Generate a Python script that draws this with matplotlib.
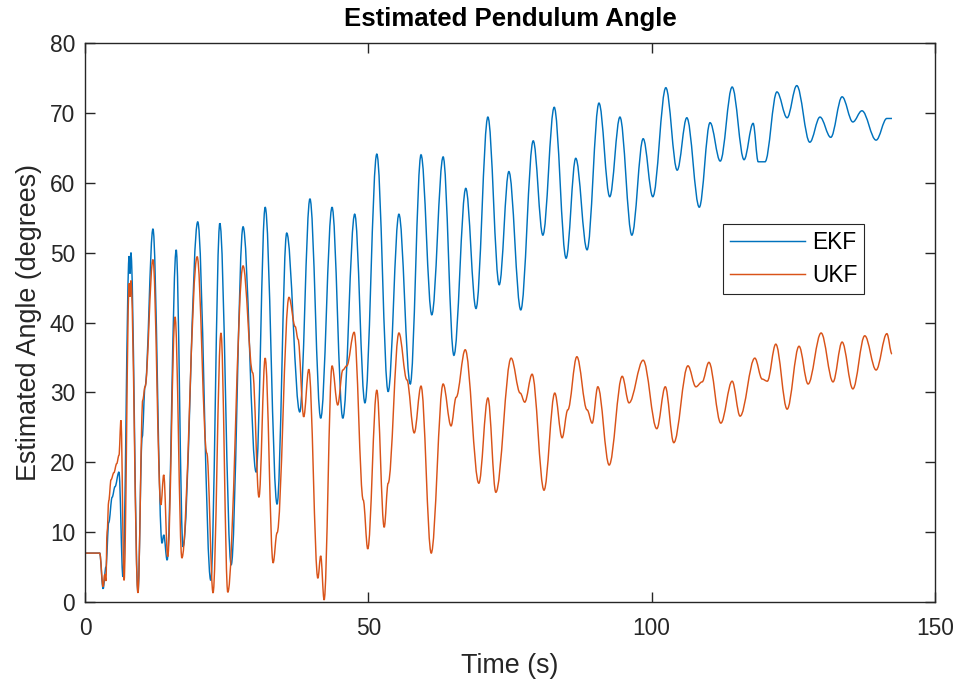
import matplotlib
matplotlib.use('Agg')
import matplotlib.pyplot as plt
from matplotlib.path import Path
from matplotlib.patches import PathPatch
from matplotlib.lines import Line2D

# values (turning points of each trace)
ekf_t = [0, 2.6, 3.2, 3.7, 4.2, 4.8, 5.3, 6.0, 6.7, 7.8, 7.95, 8.1, 9.35, 10.1, 10.6,
         12.0, 13.6, 13.9, 14.5, 16.1, 17.3, 19.9, 22.2, 23.8, 25.8, 27.9, 30.2, 31.8, 33.9,
         35.6, 37.9, 39.7, 41.6, 43.6, 45.5, 47.6, 49.4, 51.5, 53.5, 55.4, 57.4, 59.3, 61.2,
         63.2, 65.1, 67.2, 69.0, 71.1, 73.1, 74.8, 76.9, 79.1, 80.8, 82.8, 84.9, 86.6, 88.6,
         90.7, 92.6, 94.4, 96.5, 98.5, 100.2, 102.5, 104.5, 106.2, 108.4, 110.3, 112.1, 114.2,
         116.3, 117.9, 118.8, 120.0, 122.1, 123.9, 125.6, 127.9, 129.7, 131.6, 133.6, 135.5,
         137.1, 139.6, 141.5, 142.4]
ekf_deg = [7.0, 7.0, 1.9, 5.0, 11.4, 15.0, 16.5, 18.6, 3.6, 49.5, 47.0, 50.0, 1.4, 23.6, 30.8,
           53.4, 8.4, 9.6, 6.0, 50.4, 7.9, 54.4, 3.1, 54.2, 5.3, 53.7, 18.6, 56.5, 14.0,
           52.8, 27.2, 57.7, 26.3, 56.5, 26.3, 55.5, 28.5, 64.1, 30.1, 55.5, 31.2, 64.0, 41.1,
           63.7, 35.3, 59.2, 42.0, 69.4, 45.4, 61.6, 41.8, 66.0, 52.5, 70.8, 49.2, 63.5, 50.4,
           71.4, 58.0, 69.4, 52.5, 66.3, 58.0, 73.6, 61.8, 69.3, 56.5, 68.6, 63.1, 73.7,
           63.3, 68.5, 63.0, 63.0, 73.0, 69.3, 73.9, 65.8, 69.4, 66.5, 72.3, 68.7,
           70.3, 66.1, 69.2, 69.2]

ukf_t = [0, 2.6, 3.2, 3.5, 3.7, 3.9, 4.2, 4.6, 5.1, 5.6, 6.0, 6.35, 6.9, 7.8, 7.95, 8.1,
         9.35, 10.2, 10.6, 12.0, 13.4, 13.9, 14.6, 15.9, 17.1, 19.8, 21.5, 22.6, 24.0, 25.2,
         27.9, 29.6, 30.7, 31.8, 33.2, 33.9, 36.0, 37.1, 37.6, 38.6, 39.5, 41.1, 41.6, 42.2,
         43.6, 44.6, 45.5, 46.2, 47.5, 49.1, 49.9, 51.5, 52.8, 53.5, 55.4, 56.8, 58.1, 59.3,
         61.1, 63.2, 64.6, 65.5, 67.1, 69.5, 71.1, 72.5, 75.2, 76.8, 77.6, 78.9, 81.0, 82.9,
         84.2, 85.2, 86.8, 88.6, 89.5, 90.5, 92.5, 94.8, 96.0, 98.5, 100.9, 102.4, 103.9,
         106.4, 107.8, 108.9, 110.1, 112.2, 114.2, 115.6, 118.2, 119.5, 120.4, 121.9, 123.9,
         126.0, 127.6, 129.9, 132.0, 133.6, 135.5, 137.6, 139.6, 141.5, 142.4]
ukf_deg = [7.0, 7.0, 2.2, 4.0, 3.0, 10.0, 14.5, 17.5, 18.5, 19.8, 21.0, 26.0, 3.1, 45.6, 43.7, 46.0,
           1.3, 28.9, 30.8, 49.0, 13.9, 18.2, 6.5, 40.8, 6.3, 49.4, 21.3, 1.3, 38.5, 1.4,
           48.1, 32.8, 15.0, 34.9, 5.6, 9.9, 43.6, 39.4, 37.6, 26.5, 33.3, 3.4, 6.6, 0.3,
           33.8, 28.2, 33.2, 33.8, 38.6, 14.6, 7.6, 30.3, 10.7, 17.0, 38.5, 31.8, 24.2, 30.9,
           7.0, 31.2, 25.2, 29.3, 36.1, 17.0, 29.2, 15.7, 34.9, 29.9, 28.6, 32.6, 16.0, 29.9,
           23.5, 27.5, 35.1, 27.5, 25.6, 30.8, 19.6, 32.3, 28.5, 34.6, 24.8, 30.8, 22.8,
           33.8, 30.8, 31.5, 34.3, 25.6, 31.6, 26.6, 34.9, 31.9, 31.6, 36.9, 27.6,
           36.6, 31.2, 38.5, 31.5, 37.2, 30.5, 38.1, 33.2, 38.4, 35.5]

EKF_COLOR = '#0072BD'
UKF_COLOR = '#D95319'


def turning_point_path(t, y):
    '''
    Path through the read points, flat at each point (they are turning points)
    '''
    verts = [(t[0], y[0])]
    codes = [Path.MOVETO]
    for i in range(len(t) - 1):
        dt = t[i + 1] - t[i]
        verts += [(t[i] + 0.36 * dt, y[i]), (t[i + 1] - 0.36 * dt, y[i + 1]), (t[i + 1], y[i + 1])]
        codes += [Path.CURVE4] * 3
    return Path(verts, codes)


plt.rcParams['font.family'] = ['Liberation Sans', 'DejaVu Sans']

fig = plt.figure(figsize=(9.6, 6.88), dpi=100)
ax = fig.add_axes([0.0885, 0.125, 0.8855, 0.8125])

for t, y, c in [(ekf_t, ekf_deg, EKF_COLOR), (ukf_t, ukf_deg, UKF_COLOR)]:
    ax.add_patch(PathPatch(turning_point_path(t, y), facecolor='none', edgecolor=c,
                           linewidth=1.05, transform=ax.transData))

ax.set_xlim(0, 150)
ax.set_ylim(0, 80)
ax.set_xticks([0, 50, 100, 150])
ax.set_yticks(range(0, 81, 10))

# matlab-like box with inward ticks on every side
for s in ax.spines.values():
    s.set_color('#262626')
    s.set_linewidth(1.0)
ax.tick_params(direction='in', length=7, width=1.0, colors='#262626',
               labelsize=16.4, top=True, right=True, pad=7)
ax.tick_params(axis='x', pad=11)

ax.set_title('Estimated Pendulum Angle', fontsize=18.5, fontweight='bold', pad=12)
ax.set_xlabel('Time (s)', fontsize=19.4, color='#262626', labelpad=9)
ax.set_ylabel('Estimated Angle (degrees)', fontsize=19.4, color='#262626', labelpad=6)

handles = [Line2D([], [], color=EKF_COLOR, linewidth=1.05),
           Line2D([], [], color=UKF_COLOR, linewidth=1.05)]
leg = ax.legend(handles, ['EKF', 'UKF'], loc='upper left', bbox_to_anchor=(0.751, 0.676),
                fontsize=16.4, handlelength=3.3, handletextpad=0.3, borderpad=0.3,
                labelspacing=0.45, fancybox=False, framealpha=1, edgecolor='#262626',
                borderaxespad=0)
leg.get_frame().set_linewidth(0.8)

fig.savefig('out.png', dpi=100)
